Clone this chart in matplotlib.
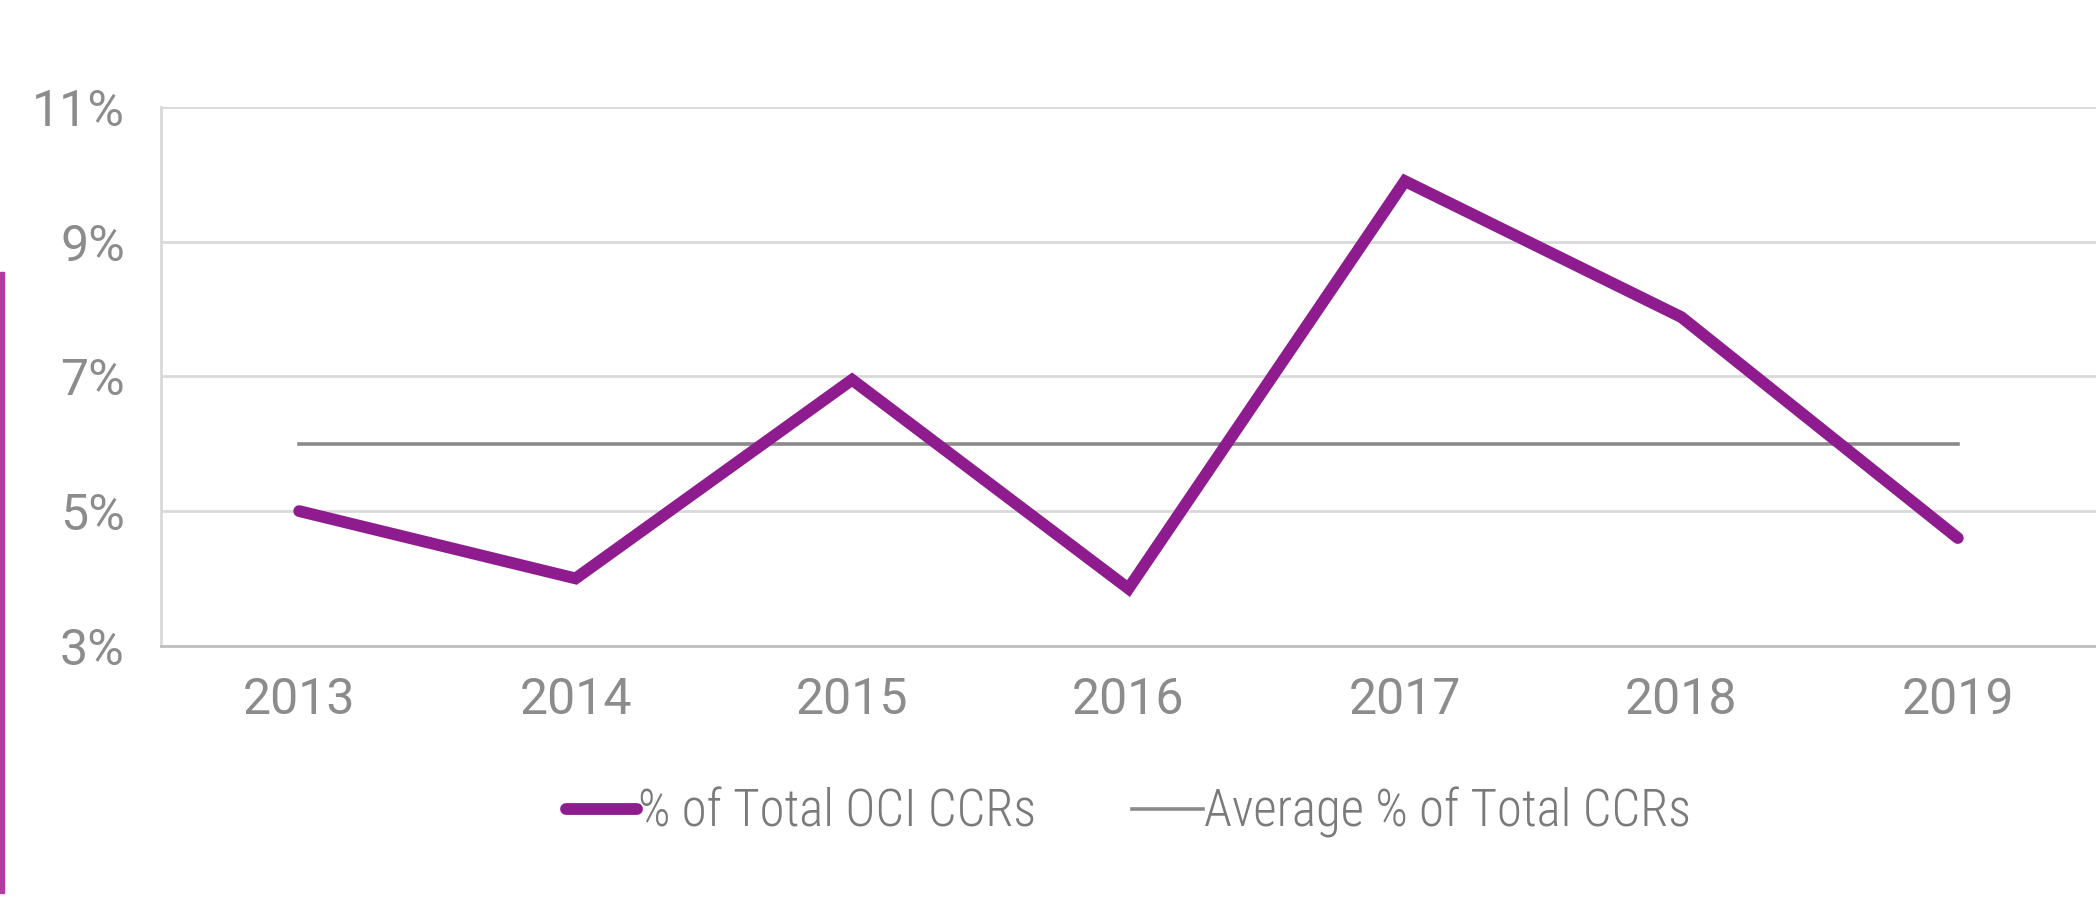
import matplotlib.pyplot as plt
from matplotlib.patches import Rectangle

years = ["2013", "2014", "2015", "2016", "2017", "2018", "2019"]
oci_share = [5.0, 4.0, 6.95, 3.85, 9.9, 7.88, 4.6]
avg_share = [6.0, 6.0, 6.0, 6.0, 6.0, 6.0, 6.0]
y_ticks = [3, 5, 7, 9, 11]

plt.rcParams["font.family"] = ["Roboto", "DejaVu Sans"]

fig = plt.figure(figsize=(20.96, 9.07), dpi=100)
ax = fig.add_axes([0.0768, 0.288, 0.9232, 0.594])

x = range(len(years))
ax.plot(x, avg_share, color="#8a8a8a", linewidth=2.6, label="Average % of Total CCRs", zorder=3)
ax.plot(x, oci_share, color="#8e1c8e", linewidth=8.5, solid_joinstyle="miter",
        solid_capstyle="round", label="% of Total OCI CCRs", zorder=4)

ax.set_xlim(-0.5, len(years) - 0.5)
ax.set_ylim(3, 11)
ax.set_xticks(list(x))
ax.set_xticklabels(years)
ax.set_yticks(y_ticks)
ax.set_yticklabels([f"{v}%" for v in y_ticks])
ax.tick_params(length=0, labelsize=36, labelcolor="#8c8c8c")
ax.tick_params(axis="x", pad=22)
ax.tick_params(axis="y", pad=26)

ax.grid(axis="y", color="#d9d9d9", linewidth=2)
ax.set_axisbelow(True)
for side in ["top", "right"]:
    ax.spines[side].set_visible(False)
ax.spines["left"].set_color("#d9d9d9")
ax.spines["left"].set_linewidth(2)
ax.spines["bottom"].set_color("#bfbfbf")
ax.spines["bottom"].set_linewidth(2)

handles, labels = ax.get_legend_handles_labels()
leg = ax.legend(handles[::-1], labels[::-1], loc="center", bbox_to_anchor=(0.5, -0.31),
                ncol=2, frameon=False, prop={"family": ["Roboto Condensed", "Roboto"],
                                             "size": 36.5, "weight": "light"},
                handlelength=1.4, handletextpad=0.02, columnspacing=1.9)
for t in leg.get_texts():
    t.set_color("#7a7a7a")

# thin coloured strip at the left edge of the screenshot
fig.patches.append(Rectangle((0, 0.015), 0.002, 0.685, transform=fig.transFigure,
                             color="#b23aa0", zorder=0))

fig.savefig("out.png", dpi=100, facecolor="white")
